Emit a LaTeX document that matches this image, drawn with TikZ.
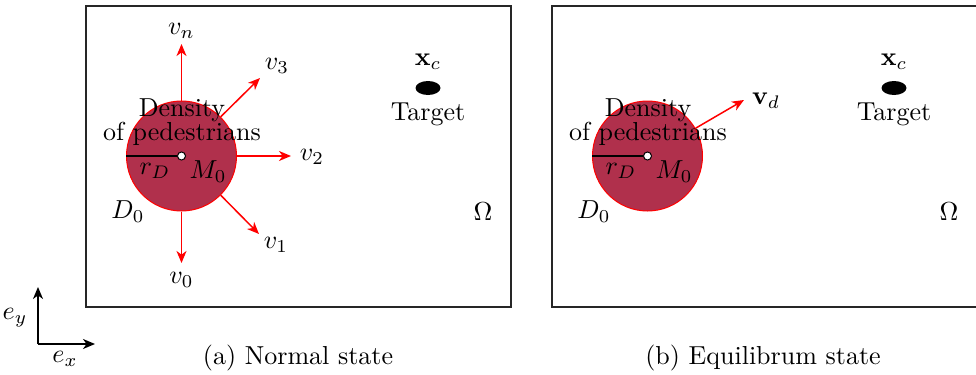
\documentclass[tikz,border=0pt]{standalone}
\usepackage{amsmath}
\usepackage{amssymb}
\usepackage{tikz}
\usetikzlibrary{shapes.geometric, arrows.meta}
\definecolor{crowd}{RGB}{176,48,76}

\begin{document}
\begin{tikzpicture}[x=0.5pt, y=-0.5pt,
                lbl/.style={scale=1.3, inner sep=1pt},
                subcap/.style={scale=1.3, inner sep=1pt},
                disc/.style={circle, draw=red, fill=crowd, line width=0.5pt, minimum size=55pt, inner sep=0pt},
                mid/.style={circle, draw=black, fill=white, line width=0.5pt, minimum size=4pt, inner sep=0pt},
                goal/.style={ellipse, fill=black, minimum width=12.5pt, minimum height=7pt, inner sep=0pt},
                vel/.style={draw=red, line width=0.75pt, -{Stealth[length=6pt, width=5pt, inset=1.8pt]}},
                panel/.style={draw=black!85, line width=0.6pt},
                axis/.style={draw=black, line width=0.8pt, -{Stealth[length=6pt, width=5pt, inset=1.8pt]}}
            ]
                \useasboundingbox (0,0) rectangle (976,375);
                % both panels
                \foreach \p/\dx in {a/0, b/466} {
                    \draw[panel] ({86+\dx},6) rectangle ({511+\dx},307);
                    \node[disc] (disc\p) at ({181.5+\dx},156) {};
                    \node[mid] (m\p) at (disc\p.center) {};
                    \draw[line width=0.8pt] (disc\p.west) -- (m\p.west);
                    \node[lbl, align=center] (dens\p) at ({182+\dx},122) {Density\\[-3pt]of pedestrians};
                    \node[lbl] (rd\p) at ({155+\dx},171) {$r_D$};
                    \node[lbl] (M\p) at ({208+\dx},172) {$M_0$};
                    \node[lbl] (D\p) at ({128+\dx},212) {$D_0$};
                    \node[lbl] (om\p) at ({483+\dx},212) {$\Omega$};
                    \node[goal] (xc\p) at ({428+\dx},88) {};
                    \node[lbl] (xl\p) at ({428+\dx},62) {$\mathbf{x}_c$};
                    \node[lbl] (tg\p) at ({428+\dx},114) {Target};
                }
                % velocities, normal state
                \coordinate (vn) at (181.5,44);
                \coordinate (v3) at (260,78);
                \coordinate (v2) at (291,156);
                \coordinate (v1) at (259,234);
                \coordinate (v0) at (181.5,263);
                \draw[vel] (disca.north) -- (vn);
                \draw[vel] (disca.45) -- (v3);
                \draw[vel] (disca.east) -- (v2);
                \draw[vel] (disca.-45) -- (v1);
                \draw[vel] (disca.south) -- (v0);
                \node[lbl] (lvn) at (181.5,31) {$v_n$};
                \node[lbl] (lv3) at (277,66) {$v_3$};
                \node[lbl] (lv2) at (312,157) {$v_2$};
                \node[lbl] (lv1) at (276,245) {$v_1$};
                \node[lbl] (lv0) at (181.5,280) {$v_0$};
                % velocity, equilibrium state
                \coordinate (vd) at (744,100);
                \draw[vel] (discb.30) -- (vd);
                \node[lbl] (lvd) at (766,101) {$\mathbf{v}_d$};
                % frame
                \coordinate (o) at (38,344);
                \coordinate (ey) at (38,287);
                \coordinate (ex) at (95,344);
                \draw[axis] (o) -- (ey);
                \draw[axis] (o) -- (ex);
                \node[lbl] (ley) at (15,318) {$e_y$};
                \node[lbl] (lex) at (65,359) {$e_x$};
                % captions
                \node[subcap] (capa) at (298,358) {(a) Normal state};
                \node[subcap] (capb) at (763,358) {(b) Equilibrum state};
            \end{tikzpicture}
\end{document}
